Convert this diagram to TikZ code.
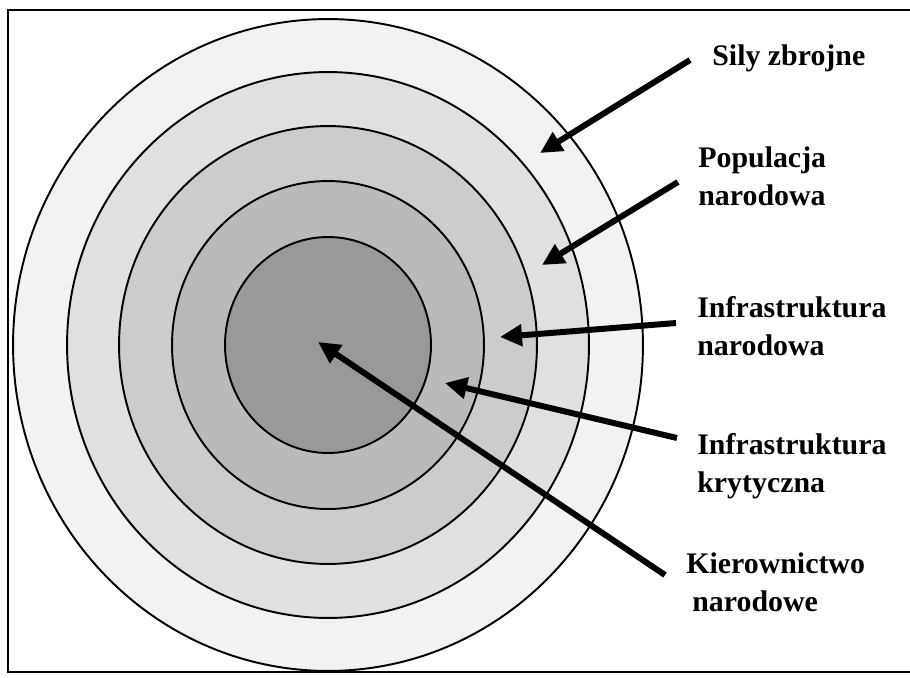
\documentclass[tikz,border=0pt]{standalone}
\usepackage{fontspec}
\setmainfont{Liberation Serif}
\usetikzlibrary{arrows.meta}

\definecolor{ringA}{gray}{0.95}
\definecolor{ringB}{gray}{0.88}
\definecolor{ringC}{gray}{0.80}
\definecolor{ringD}{gray}{0.73}
\definecolor{ringE}{gray}{0.60}

\begin{document}
\begin{tikzpicture}[
x=0.02cm, y=-0.02cm,
font=\bfseries\fontsize{17}{21.5}\selectfont,
ring/.style={draw=black, line width=1.1pt},
lab/.style={anchor=west, align=left, inner sep=0pt},
arr/.style={line width=3.4pt, -{Triangle[length=0.44cm,width=0.42cm]}}
]
\useasboundingbox (0,0) rectangle (910,677);

% frame
\draw[line width=0.9pt] (8,10) rectangle (930,672);

% rings, outer to inner
\coordinate (c) at (328,345);
\draw[ring, fill=ringA] (c) ellipse [x radius=6.30cm, y radius=6.52cm];
\draw[ring, fill=ringB] (c) ellipse [x radius=5.22cm, y radius=5.46cm];
\draw[ring, fill=ringC] (c) ellipse [x radius=4.18cm, y radius=4.38cm];
\draw[ring, fill=ringD] (c) ellipse [x radius=3.12cm, y radius=3.28cm];
\draw[ring, fill=ringE] (c) ellipse [x radius=2.06cm, y radius=2.16cm];

% labels
\node[lab] (sily) at (712,58) {Sily zbrojne};
\node[lab] (pop) at (698,176) {Populacja\\narodowa};
\node[lab] (infn) at (697,326) {Infrastruktura\\narodowa};
\node[lab] (infk) at (697,466) {Infrastruktura\\krytyczna};
\node[lab] (kier) at (686,582) {Kierownictwo\\\hspace{3.4pt}narodowe};

% arrow tips
\coordinate (t1) at (540,153);
\coordinate (t2) at (542,265);
\coordinate (t3) at (500,337);
\coordinate (t4) at (445,383);
\coordinate (t5) at (318,342);

% arrows
\draw[arr] ([shift={(-22,2)}]sily.west) -- (t1);
\draw[arr] ([shift={(-20,6)}]pop.west) -- (t2);
\draw[arr] ([shift={(-21,-3)}]infn.west) -- (t3);
\draw[arr] ([shift={(-20,-28)}]infk.west) -- (t4);
\draw[arr] ([shift={(-21,-7)}]kier.west) -- (t5);

\end{tikzpicture}
\end{document}
